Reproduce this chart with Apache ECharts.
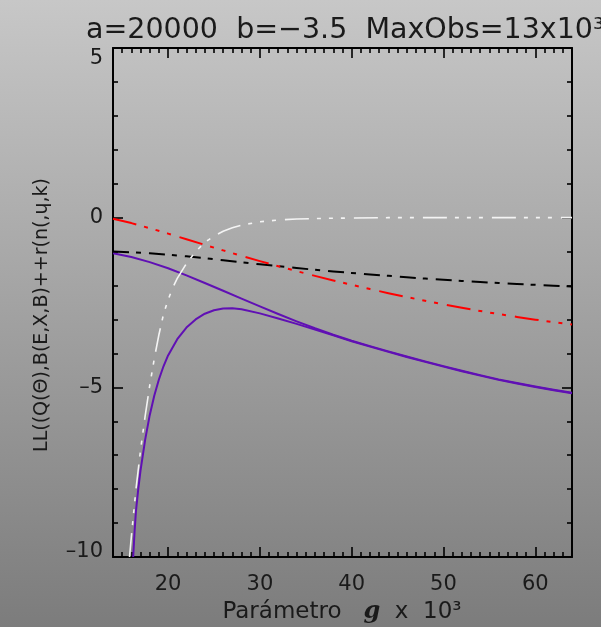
<!DOCTYPE html>
<html>
<head>
<meta charset="utf-8">
<script src="https://cdn.jsdelivr.net/npm/echarts@6/dist/echarts.min.js"></script>
<style>
  html, body { margin: 0; padding: 0; background: #a0a0a0; }
  #chart { width: 601px; height: 627px; }
</style>
</head>
<body>
<div id="chart"></div>
<script>
// Log-likelihood profiles versus the parameter g (in thousands)

const xMajorTicks = [20, 30, 40, 50, 60];
const xMinorTicks = [15, 16, 17, 18, 19, 21, 22, 23, 24, 25, 26, 27, 28, 29, 31, 32, 33, 34, 35, 36, 37, 38, 39,
                     41, 42, 43, 44, 45, 46, 47, 48, 49, 51, 52, 53, 54, 55, 56, 57, 58, 59, 61, 62, 63];
const yTickLabels = [-10, -5, 0, 5];

// red, dash-dot-dot-dot
const redG   = [14, 16, 18, 20, 22, 24, 26, 28, 30, 32, 34, 36, 38, 40, 42, 44, 46, 48, 50, 52, 54, 56, 58, 60, 62, 64];
const redLL  = [-0.03, -0.16, -0.31, -0.47, -0.635, -0.80, -0.965, -1.125, -1.28, -1.43, -1.575, -1.715, -1.85, -1.98,
                -2.105, -2.225, -2.34, -2.45, -2.555, -2.655, -2.75, -2.84, -2.925, -3.005, -3.08, -3.15];

// black, dash-dot
const blackG  = [14, 16, 18, 20, 22, 24, 26, 28, 30, 32, 34, 36, 38, 40, 42, 44, 46, 48, 50, 52, 54, 56, 58, 60, 62, 64];
const blackLL = [-1.00, -1.02, -1.05, -1.09, -1.14, -1.195, -1.255, -1.315, -1.375, -1.43, -1.485, -1.535, -1.585, -1.63,
                 -1.675, -1.715, -1.755, -1.795, -1.83, -1.865, -1.895, -1.925, -1.955, -1.98, -2.005, -2.03];

// white, dash-dot-dot-dot
const whiteG  = [15.8, 16.0, 16.5, 17.0, 17.5, 18.0, 18.5, 19.0, 19.5, 20, 20.5, 21, 22, 23, 24, 25, 26, 27, 28, 30, 32, 34, 37, 40, 44, 50, 56, 64];
const whiteLL = [-10.0, -9.4, -8.0, -6.85, -5.85, -4.95, -4.15, -3.45, -2.85, -2.42, -2.07, -1.79, -1.35, -1.0, -0.73,
                 -0.54, -0.40, -0.30, -0.22, -0.12, -0.07, -0.04, -0.02, -0.01, 0, 0, 0, 0];

// purple, upper solid
const upperG  = [14, 16, 18, 20, 22, 24, 26, 28, 30, 32, 34, 36, 38, 40, 42, 44, 46, 48, 50, 52, 54, 56, 58, 60, 62, 64];
const upperLL = [-1.05, -1.16, -1.31, -1.49, -1.70, -1.925, -2.155, -2.385, -2.615, -2.84, -3.055, -3.26, -3.45, -3.625,
                 -3.785, -3.94, -4.09, -4.235, -4.375, -4.51, -4.64, -4.765, -4.875, -4.975, -5.07, -5.16];

// purple, lower solid
const lowerG  = [16.2, 16.35, 16.5, 16.75, 17.0, 17.5, 18.0, 18.5, 19.0, 19.5, 20, 21, 22, 23, 24, 25, 26, 27, 28, 30, 32,
                 34, 36, 38, 40, 42, 44, 46, 48, 50, 52, 54, 56, 58, 60, 62, 64];
const lowerLL = [-10.0, -9.25, -8.65, -8.0, -7.45, -6.55, -5.82, -5.24, -4.77, -4.38, -4.06, -3.58, -3.24, -3.0, -2.83,
                 -2.73, -2.68, -2.67, -2.70, -2.82, -2.97, -3.13, -3.30, -3.47, -3.64, -3.80, -3.955, -4.105, -4.25,
                 -4.39, -4.525, -4.655, -4.78, -4.89, -4.99, -5.085, -5.175];

const pairs = (xs, ys) => xs.map((x, i) => [x, ys[i]]);

const FONT = '"DejaVu Sans", sans-serif';
const INK = '#1a1a1a';

const chart = echarts.init(document.getElementById('chart'));

function xAxisAt(position, values, len, withLine, withLabels) {
  return {
    type: 'value', min: 14, max: 64, position: position,
    splitLine: { show: false },
    axisLine: { show: withLine, onZero: false, lineStyle: { color: '#000', width: 2 } },
    axisTick: { show: true, inside: true, length: len, customValues: values,
                lineStyle: { color: '#000', width: 1.6 } },
    axisLabel: withLabels
      ? { show: true, customValues: xMajorTicks, margin: 17, fontSize: 21, fontFamily: FONT, color: INK }
      : { show: false }
  };
}

function yAxisAt(position, withLabels) {
  const base = { fontSize: 21, fontFamily: FONT, color: INK };
  return {
    type: 'value', min: -10, max: 5, interval: 5, position: position,
    splitLine: { show: false },
    axisLine: { show: true, onZero: false, lineStyle: { color: '#000', width: 2 } },
    axisTick: { show: true, inside: true, length: 10, lineStyle: { color: '#000', width: 1.6 } },
    minorTick: { show: true, splitNumber: 5, length: 5, lineStyle: { color: '#000', width: 1.6 } },
    axisLabel: withLabels ? Object.assign({
      show: true, margin: 10,
      formatter: function (v) {
        // short dash as the minus sign on the tick labels
        const s = String(v).replace('-', '\u2013');
        if (v === yTickLabels[yTickLabels.length - 1]) return '{top|' + s + '}';
        if (v === yTickLabels[0]) return '{bot|' + s + '}';
        return '{n|' + s + '}';
      },
      rich: {
        n:   Object.assign({}, base),
        top: Object.assign({ padding: [22, 0, 0, 0] }, base),
        bot: Object.assign({ padding: [0, 0, 10, 0] }, base)
      }
    }, base) : { show: false }
  };
}

function curve(data, color, width, dash) {
  return {
    type: 'line', data: data, showSymbol: false, symbol: 'none',
    smooth: false, xAxisIndex: 0, yAxisIndex: 0,
    lineStyle: { color: color, width: width, type: dash || 'solid', cap: 'butt', join: 'round' },
    emphasis: { disabled: true }, silent: true
  };
}

const dashDot3 = [24, 8, 4, 8, 4, 8, 4, 9];
const dashDot  = [16, 7, 5, 8];

chart.setOption({
  animation: false,
  backgroundColor: {
    type: 'linear', x: 0, y: 0, x2: 0, y2: 1,
    colorStops: [{ offset: 0, color: '#c7c7c7' }, { offset: 1, color: '#7c7c7c' }]
  },
  title: {
    text: 'a=20000  b=\u22123.5  MaxObs=13x10\u00b3',
    left: 81, top: 11,
    textStyle: { fontSize: 28.5, fontWeight: 'normal', fontFamily: FONT, color: INK }
  },
  grid: { left: 113, right: 29, top: 48, bottom: 70, containLabel: false },
  xAxis: [
    xAxisAt('bottom', xMajorTicks, 10, true, true),
    xAxisAt('bottom', xMinorTicks, 5, false, false),
    xAxisAt('top', xMajorTicks, 10, true, false),
    xAxisAt('top', xMinorTicks, 5, false, false)
  ],
  yAxis: [yAxisAt('left', true), yAxisAt('right', false)],
  graphic: [
    {
      type: 'text', x: 342, y: 612,
      style: {
        text: 'Parámetro   {g|g}  x  10\u00b3',
        align: 'center', verticalAlign: 'middle',
        fontSize: 23, fontFamily: FONT, fill: INK,
        rich: { g: { fontSize: 24, fontFamily: '"DejaVu Serif", serif', fontStyle: 'italic', fontWeight: 'bold', fill: INK } }
      }
    },
    {
      type: 'text', x: 42, y: 315, rotation: Math.PI / 2,
      style: {
        text: 'LL((Q(Θ),B(E,X,B)++r(n(,ɥ,k)',
        align: 'center', verticalAlign: 'middle',
        fontSize: 19, fontFamily: FONT, fill: INK
      }
    }
  ],
  series: [
    curve(pairs(upperG, upperLL), '#6010b4', 2),
    curve(pairs(lowerG, lowerLL), '#6010b4', 2),
    curve(pairs(blackG, blackLL), '#000000', 2, dashDot),
    curve(pairs(redG, redLL), '#ff0000', 2, dashDot3),
    curve(pairs(whiteG, whiteLL), '#f4f4f4', 1.6, dashDot3)
  ]
});
</script>
</body>
</html>
